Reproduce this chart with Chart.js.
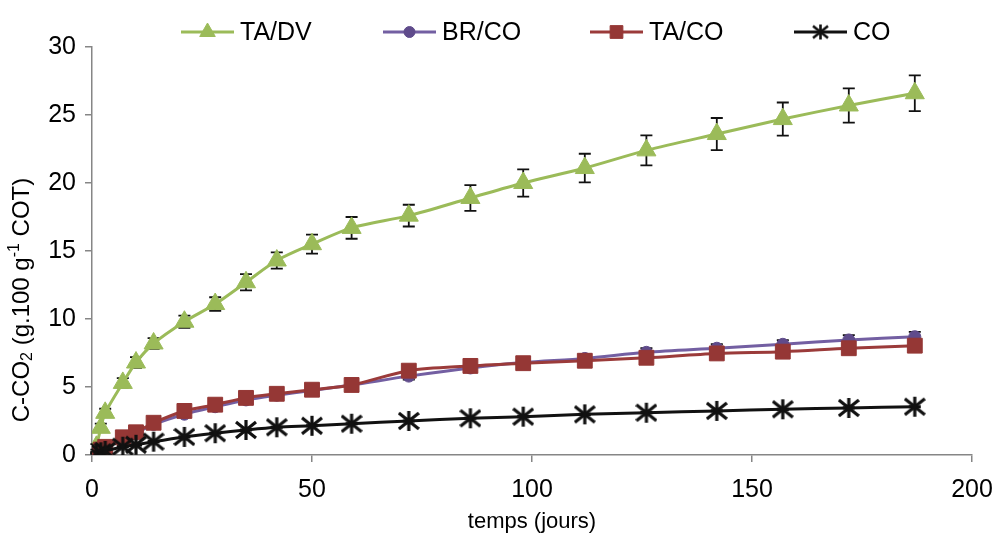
<!DOCTYPE html>
<html><head><meta charset="utf-8">
<script src="https://cdn.jsdelivr.net/npm/chart.js@4.4.1/dist/chart.umd.min.js"></script>
<style>html,body{margin:0;padding:0;background:#fff}#wrap{width:998px;height:536px;position:relative}</style>
</head><body><div id="wrap"><canvas id="c" width="998" height="536"></canvas></div>
<script>
// ---- data ----
const days = [1, 2, 3, 7, 10, 14, 21, 28, 35, 42, 50, 59, 72, 86, 98, 112, 126, 142, 157, 172, 187];
const seriesNames = ['TA/DV', 'BR/CO', 'TA/CO', 'CO'];
const taDV    = [0.6, 2.0, 3.1, 5.3, 6.8, 8.2, 9.8, 11.1, 12.7, 14.3, 15.5, 16.7, 17.6, 18.9, 20.0, 21.1, 22.4, 23.6, 24.7, 25.7, 26.6];
const taDVErr = [0.2, 0.3, 0.3, 0.35, 0.4, 0.4, 0.45, 0.5, 0.6, 0.6, 0.7, 0.8, 0.8, 0.95, 1.0, 1.05, 1.1, 1.18, 1.22, 1.26, 1.32];
const brCO    = [0.15, 0.35, 0.55, 1.2, 1.6, 2.25, 3.0, 3.55, 4.05, 4.4, 4.75, 5.15, 5.8, 6.4, 6.8, 7.1, 7.55, 7.85, 8.14, 8.46, 8.7];
const brCOErr = [0.05, 0.05, 0.1, 0.1, 0.15, 0.15, 0.2, 0.2, 0.2, 0.2, 0.2, 0.2, 0.25, 0.25, 0.25, 0.3, 0.3, 0.3, 0.3, 0.35, 0.35];
const taCO    = [0.2, 0.4, 0.6, 1.3, 1.67, 2.37, 3.24, 3.7, 4.2, 4.5, 4.8, 5.15, 6.2, 6.55, 6.75, 6.93, 7.15, 7.47, 7.6, 7.85, 8.04];
const taCOErr = [0.05, 0.05, 0.05, 0.1, 0.1, 0.1, 0.1, 0.15, 0.15, 0.15, 0.15, 0.15, 0.2, 0.2, 0.2, 0.2, 0.2, 0.2, 0.2, 0.2, 0.2];
const co      = [0.1, 0.2, 0.3, 0.61, 0.75, 0.98, 1.33, 1.6, 1.84, 2.04, 2.15, 2.3, 2.5, 2.7, 2.82, 2.99, 3.11, 3.24, 3.36, 3.46, 3.55];
const coErr   = [0.02, 0.02, 0.03, 0.05, 0.05, 0.05, 0.05, 0.05, 0.05, 0.05, 0.05, 0.05, 0.05, 0.05, 0.05, 0.05, 0.05, 0.05, 0.05, 0.05, 0.05];
const xTitle = 'temps (jours)';
const yTitleParts = [['C-CO', 0], ['2', 1], [' (g.100 g', 0], ['-1', -1], [' COT)', 0]];

const FONT = '"Liberation Sans", Arial, sans-serif';

function makeAsterisk(size, color, lw) {
  const c = document.createElement('canvas');
  c.width = size; c.height = size;
  const g = c.getContext('2d');
  g.strokeStyle = color; g.lineWidth = lw; g.lineCap = 'butt';
  const m = size / 2, r = size / 2 - 1;
  g.beginPath();
  g.moveTo(m, m - r); g.lineTo(m, m + r);
  g.moveTo(m - r, m - r * 0.8); g.lineTo(m + r, m + r * 0.8);
  g.moveTo(m - r, m + r * 0.8); g.lineTo(m + r, m - r * 0.8);
  g.stroke();
  return c;
}
const starBig = makeAsterisk(22, '#111', 3.2);
const starSmall = makeAsterisk(17, '#111', 2.6);

function pts(arr) { return days.map((d, i) => ({ x: d, y: arr[i] })); }

const datasets = [
  { label: seriesNames[0], data: pts(taDV), err: taDVErr, borderColor: '#9BBB59', backgroundColor: '#9BBB59',
    pointBackgroundColor: '#9BBB59', pointBorderColor: '#9BBB59', pointStyle: 'triangle', pointRadius: 11, legendRadius: 9, order: 3 },
  { label: seriesNames[1], data: pts(brCO), err: brCOErr, borderColor: '#735FA2', backgroundColor: '#5F4B8B',
    pointBackgroundColor: '#5F4B8B', pointBorderColor: '#5F4B8B', pointStyle: 'circle', pointRadius: 6, legendRadius: 5.5, order: 2 },
  { label: seriesNames[2], data: pts(taCO), err: taCOErr, borderColor: '#9B3B3A', backgroundColor: '#953735',
    pointBackgroundColor: '#953735', pointBorderColor: '#953735', pointStyle: 'rect', pointRadius: 10.5, legendRadius: 9, order: 1 },
  { label: seriesNames[3], data: pts(co), err: coErr, borderColor: '#111', backgroundColor: '#111',
    pointBackgroundColor: '#111', pointBorderColor: '#111', pointStyle: starBig, legendStyle: starSmall, pointRadius: 11, legendRadius: 8, order: 0 }
].map(d => Object.assign({ borderWidth: 3, tension: 0.3, fill: false, pointBorderWidth: 1, pointHoverRadius: d.pointRadius }, d));

const errorBars = {
  id: 'errorBars',
  beforeDatasetsDraw(chart) {
    const ctx = chart.ctx, xs = chart.scales.x, ys = chart.scales.y;
    ctx.save();
    ctx.strokeStyle = '#111'; ctx.lineWidth = 1.8;
    chart.data.datasets.forEach(ds => {
      ds.data.forEach((p, i) => {
        const e = ds.err[i];
        const px = xs.getPixelForValue(p.x);
        const y1 = ys.getPixelForValue(p.y + e), y2 = ys.getPixelForValue(p.y - e);
        ctx.beginPath();
        ctx.moveTo(px, y1); ctx.lineTo(px, y2);
        ctx.moveTo(px - 6, y1); ctx.lineTo(px + 6, y1);
        ctx.moveTo(px - 6, y2); ctx.lineTo(px + 6, y2);
        ctx.stroke();
      });
    });
    ctx.restore();
  }
};

const legendStarts = [181, 383, 590, 794];
const customLegend = {
  id: 'customLegend',
  afterDraw(chart) {
    const ctx = chart.ctx;
    ctx.save();
    ctx.font = '25px ' + FONT;
    const items = chart.data.datasets;
    const lineLen = 53, gap = 6, cy = 32;
    items.forEach((d, k) => {
      const x = legendStarts[k];
      ctx.strokeStyle = d.borderColor; ctx.lineWidth = d.borderWidth;
      ctx.beginPath(); ctx.moveTo(x, cy); ctx.lineTo(x + lineLen, cy); ctx.stroke();
      ctx.fillStyle = d.pointBackgroundColor; ctx.strokeStyle = d.pointBorderColor; ctx.lineWidth = 1;
      Chart.helpers.drawPoint(ctx, { pointStyle: d.legendStyle || d.pointStyle, radius: d.legendRadius, rotation: 0, borderWidth: 1 }, x + lineLen / 2, cy);
      ctx.fillStyle = '#000'; ctx.textAlign = 'left'; ctx.textBaseline = 'middle';
      ctx.fillText(d.label, x + lineLen + gap, cy + 1);
    });
    ctx.restore();
  }
};

const yTitle = {
  id: 'yTitle',
  afterDraw(chart) {
    const ctx = chart.ctx;
    ctx.save();
    ctx.translate(22, 300);
    ctx.rotate(-Math.PI / 2);
    const big = 24, small = 16;
    const parts = yTitleParts.map(([t, k]) => ({ t, k, f: (k === 0 ? big : small) + 'px ' + FONT }));
    let total = 0;
    parts.forEach(p => { ctx.font = p.f; p.w = ctx.measureText(p.t).width; total += p.w; });
    let x = -total / 2;
    ctx.fillStyle = '#000'; ctx.textBaseline = 'middle'; ctx.textAlign = 'left';
    parts.forEach(p => {
      ctx.font = p.f;
      const dy = p.k === 1 ? 6 : (p.k === -1 ? -7 : 0);
      ctx.fillText(p.t, x, dy);
      x += p.w;
    });
    ctx.restore();
  }
};

new Chart(document.getElementById('c'), {
  type: 'line',
  data: { datasets },
  options: {
    responsive: false,
    animation: false,
    devicePixelRatio: 1,
    layout: { padding: { top: 47, right: 26, left: 0, bottom: 0 } },
    plugins: { legend: { display: false }, tooltip: { enabled: false } },
    scales: {
      x: {
        type: 'linear', min: 0, max: 200,
        ticks: { stepSize: 50, color: '#000', font: { size: 25, family: FONT }, padding: 13, maxRotation: 0 },
        grid: { drawOnChartArea: false, drawTicks: true, tickLength: 7, color: '#868686', lineWidth: 1.5 },
        border: { display: true, color: '#868686', width: 1.5 },
        title: { display: true, text: xTitle, color: '#000', font: { size: 22, family: FONT }, padding: { top: 0, bottom: 1 } },
        afterFit(s) { s.height = 81; s.paddingLeft = 0; s.paddingRight = 0; }
      },
      y: {
        type: 'linear', min: 0, max: 30,
        ticks: { stepSize: 5, color: '#000', font: { size: 25, family: FONT }, padding: 9 },
        grid: { drawOnChartArea: false, drawTicks: true, tickLength: 7, color: '#868686', lineWidth: 1.5 },
        border: { display: true, color: '#868686', width: 1.5 },
        afterFit(s) { s.width = 92; s.paddingTop = 0; s.paddingBottom = 0; }
      }
    }
  },
  plugins: [errorBars, customLegend, yTitle]
});
</script>
</body></html>
